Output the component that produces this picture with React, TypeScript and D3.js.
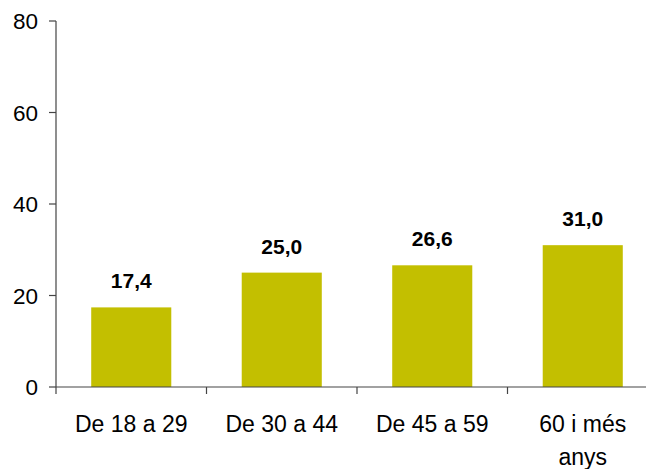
import React from "react";
import * as d3 from "d3";

// data
const categories = ["De 18 a 29", "De 30 a 44", "De 45 a 59", "60 i més anys"];
const categoryLines = [["De 18 a 29"], ["De 30 a 44"], ["De 45 a 59"], ["60 i més", "anys"]];
const values = [17.4, 25.0, 26.6, 31.0];
const yTicks = [0, 20, 40, 60, 80];

const W = 646;
const H = 469;
const margin = { top: 21, left: 56, bottom: 82 };
const plotRight = 658; // the frame runs past the right edge of the picture

const barColor = "#c3bf00";
const axisColor = "#444";
const font = "'Liberation Sans', Arial, sans-serif";

export default function App() {
  const x = d3
    .scaleBand<string>()
    .domain(categories)
    .range([margin.left, plotRight])
    .paddingInner(0.468)
    .paddingOuter(0.234);

  const y = d3.scaleLinear().domain([0, 80]).range([H - margin.bottom, margin.top]);

  const fmt = (v: number) => d3.format(".1f")(v).replace(".", ",");
  const step = x.step();
  const base = y(0);

  return (
    <svg
      width={W}
      height={H}
      style={{ position: "absolute", left: 0, top: 0, background: "#fff" }}
      fontFamily={font}
    >
      {/* bars */}
      {values.map((v, i) => (
        <rect
          key={categories[i]}
          x={x(categories[i])}
          y={y(v)}
          width={x.bandwidth()}
          height={base - y(v)}
          fill={barColor}
        />
      ))}

      {/* value labels */}
      {values.map((v, i) => (
        <text
          key={"v" + i}
          x={(x(categories[i]) as number) + x.bandwidth() / 2}
          y={y(v) - 19}
          textAnchor="middle"
          fontSize={21}
          fontWeight="bold"
          fill="#000"
        >
          {fmt(v)}
        </text>
      ))}

      {/* y axis */}
      <line x1={margin.left} x2={margin.left} y1={y(80)} y2={base} stroke={axisColor} strokeWidth={1.2} />
      {yTicks.map((t) => (
        <g key={"t" + t}>
          <line x1={margin.left - 7} x2={margin.left} y1={y(t)} y2={y(t)} stroke={axisColor} strokeWidth={1.2} />
          <text x={margin.left - 18} y={y(t)} dy="0.36em" textAnchor="end" fontSize={22.5} fill="#000">
            {t}
          </text>
        </g>
      ))}

      {/* x axis */}
      <line x1={margin.left} x2={W} y1={base} y2={base} stroke={axisColor} strokeWidth={1.2} />
      {categories.map((c, i) => {
        const left = (x(c) as number) - (step - x.bandwidth()) / 2;
        return <line key={"xt" + i} x1={left} x2={left} y1={base} y2={base + 7} stroke={axisColor} strokeWidth={1.2} />;
      })}
      {categoryLines.map((lines, i) => (
        <text
          key={"c" + i}
          x={(x(categories[i]) as number) + x.bandwidth() / 2}
          y={base + 45}
          textAnchor="middle"
          fontSize={23}
          fill="#000"
        >
          {lines.map((l, j) => (
            <tspan key={j} x={(x(categories[i]) as number) + x.bandwidth() / 2} dy={j === 0 ? 0 : 33}>
              {l}
            </tspan>
          ))}
        </text>
      ))}
    </svg>
  );
}
